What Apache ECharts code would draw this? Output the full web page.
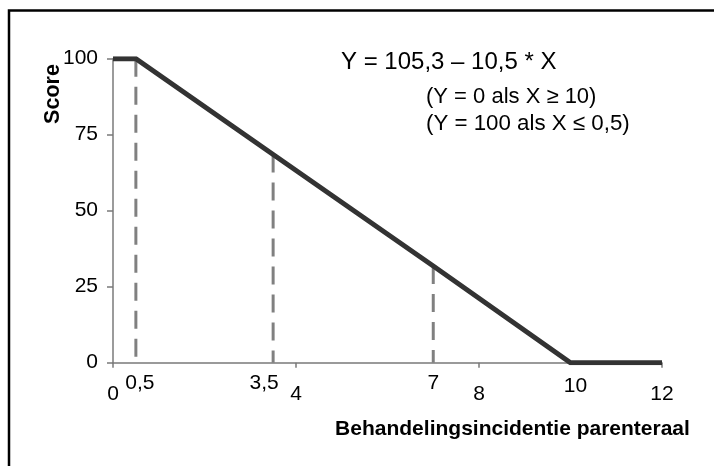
<!DOCTYPE html>
<html>
<head>
<meta charset="utf-8">
<script src="https://cdn.jsdelivr.net/npm/echarts@6/dist/echarts.min.js"></script>
<style>
  html, body { margin: 0; padding: 0; background: #ffffff; }
  #chart { width: 714px; height: 466px; }
</style>
</head>
<body>
<div id="chart"></div>
<script>
// Score as a function of treatment incidence (parenteral)
const scoreX = [0, 0.5, 3.5, 7, 10, 12];
const scoreY = [100, 100, 68.5, 31.8, 0, 0];

// Reference drops (dashed) from the curve down to the x axis
const dropX = [0.5, 3.5, 7];
const dropY = [100, 68.5, 31.8];

// Extra breakpoint labels on the x axis
const breakX = [0.5, 3.5, 7, 10];
const breakLabels = ['0,5', '3,5', '7', '10'];

// Axis ranges and tick steps
const xMin = 0, xMax = 12, xStep = 4;
const yMin = 0, yMax = 100, yStep = 25;

const FONT = '"Liberation Sans", Arial, sans-serif';

const chart = echarts.init(document.getElementById('chart'), null, { renderer: 'canvas' });

const scoreLine = {
  type: 'line',
  data: scoreX.map((x, i) => [x, scoreY[i]]),
  symbol: 'none',
  z: 5,
  lineStyle: { color: '#333333', width: 5, cap: 'butt', join: 'miter' },
  silent: true
};

const drops = dropX.map((x, i) => ({
  type: 'line',
  data: [[x, dropY[i]], [x, 0]],
  symbol: 'none',
  z: 3,
  lineStyle: { color: '#808080', width: 3, type: [18, 10], cap: 'butt' },
  silent: true
}));

// per-label nudges for the staggered breakpoint labels
const breakStyle = [
  { dx: 4, dist: 10 },
  { dx: -9, dist: 10 },
  { dx: 0, dist: 10 },
  { dx: 5, dist: 13 }
];

const labelText = {
  fontFamily: FONT,
  fontSize: 21,
  color: '#000000',
  opacity: 1,
  textBorderWidth: 0
};

const breakSeries = {
  type: 'scatter',
  symbolSize: 0,
  silent: true,
  z: 6,
  itemStyle: { color: '#000000' },
  label: Object.assign({ show: true, position: 'bottom' }, labelText),
  emphasis: { disabled: true },
  data: breakX.map((x, i) => ({
    value: [x, 0],
    label: Object.assign({
      show: true,
      position: 'bottom',
      distance: breakStyle[i].dist,
      offset: [breakStyle[i].dx, 0],
      formatter: breakLabels[i]
    }, labelText)
  }))
};

const option = {
  animation: false,
  backgroundColor: '#ffffff',
  grid: {
    left: 113, right: 52, top: 58.7, bottom: 103.3,
    containLabel: false,
    outerBoundsMode: 'none'
  },
  xAxis: {
    type: 'value',
    min: xMin, max: xMax, interval: xStep,
    axisLine: { show: true, onZero: false, lineStyle: { color: '#7a7a7a', width: 1.5 } },
    axisTick: { show: true, length: 5, lineStyle: { color: '#7a7a7a', width: 1.5 } },
    axisLabel: {
      margin: 21,
      fontFamily: FONT, fontSize: 21, color: '#000000',
      formatter: v => String(v).replace('.', ',')
    },
    splitLine: { show: false }
  },
  yAxis: {
    type: 'value',
    min: yMin, max: yMax, interval: yStep,
    axisLine: { show: true, onZero: false, lineStyle: { color: '#7a7a7a', width: 1.5 } },
    axisTick: { show: true, length: 6, lineStyle: { color: '#7a7a7a', width: 1.5 } },
    axisLabel: { margin: 15, fontFamily: FONT, fontSize: 21, color: '#000000' },
    splitLine: { show: false }
  },
  series: [scoreLine, ...drops, breakSeries],
  graphic: [
    {
      type: 'polyline',
      shape: { points: [[9, 466], [9, 10.5], [714, 10.5]] },
      style: { stroke: '#000000', lineWidth: 2.5, fill: null },
      silent: true
    },
    {
      type: 'text',
      x: 53.5, y: 94,
      rotation: Math.PI / 2,
      style: {
        text: 'Score', fontFamily: FONT, fontSize: 21.5, fontWeight: 'bold',
        fill: '#000000', align: 'center', verticalAlign: 'middle'
      }
    },
    {
      type: 'text',
      x: 512.5, y: 429,
      style: {
        text: 'Behandelingsincidentie parenteraal', fontFamily: FONT, fontSize: 21,
        fontWeight: 'bold', fill: '#000000', align: 'center', verticalAlign: 'middle'
      }
    },
    {
      type: 'text',
      x: 341, y: 62.5,
      style: {
        text: 'Y = 105,3 \u2013 10,5 * X', fontFamily: FONT, fontSize: 24,
        fill: '#000000', align: 'left', verticalAlign: 'middle'
      }
    },
    {
      type: 'text',
      x: 426, y: 96.5,
      style: {
        text: '(Y = 0 als X \u2265 10)', fontFamily: FONT, fontSize: 22,
        fill: '#000000', align: 'left', verticalAlign: 'middle'
      }
    },
    {
      type: 'text',
      x: 426, y: 124,
      style: {
        text: '(Y = 100 als X \u2264 0,5)', fontFamily: FONT, fontSize: 22.3,
        fill: '#000000', align: 'left', verticalAlign: 'middle'
      }
    }
  ]
};

chart.setOption(option);
</script>
</body>
</html>
